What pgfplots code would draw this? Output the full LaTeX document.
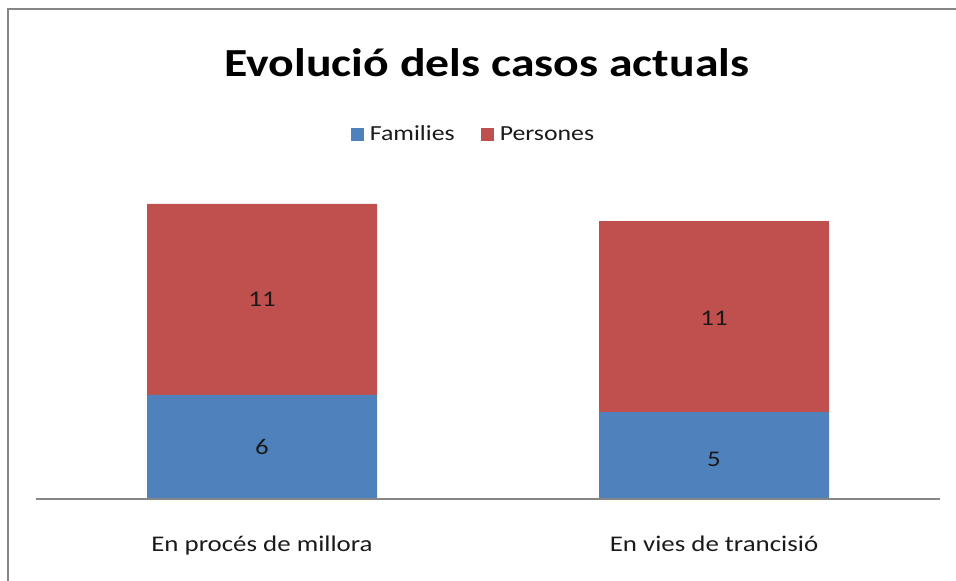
\documentclass[border=0pt]{standalone}
\usepackage{fontspec}
\setmainfont[FakeStretch=1.2]{Carlito}
\usepackage{pgfplots}
\pgfplotsset{compat=1.18}
\definecolor{famblue}{HTML}{4F81BD}
\definecolor{perred}{HTML}{C0504D}
\definecolor{framegray}{HTML}{868686}
\definecolor{txt}{HTML}{1A1A1A}
\begin{document}
\begin{tikzpicture}[x=1bp,y=1bp]
\useasboundingbox (0,0) rectangle (956,581);
\node[anchor=base,font=\fontsize{39.8bp}{44bp}\selectfont\bfseries] at (487,504) {Evolució dels casos actuals};
\begin{axis}[
  at={(36bp,82bp)}, anchor=south west,
  scale only axis, width=904bp, height=295.16bp,
  xmin=-0.5, xmax=1.5, ymin=0, ymax=17,
  ybar stacked, bar width=230bp,
  hide axis, clip=false,
  legend style={at={(0.484,1.236)}, anchor=center, draw=none, fill=none,
    legend columns=2, font=\fontsize{21.5bp}{25bp}\selectfont, text=txt,
    /tikz/every even column/.append style={column sep=24bp}},
  legend image code/.code={\fill[#1,draw=none] (0bp,-6.5bp) rectangle (13bp,6.5bp); \path (17bp,0bp);},
]
\draw[framegray, line width=1.2bp] (axis cs:-0.5,0) -- (axis cs:1.5,0);
\addplot[fill=famblue, draw=none] coordinates {(0,6) (1,5)};
\addlegendentry{Families}
\addplot[fill=perred, draw=none] coordinates {(0,11) (1,11)};
\addlegendentry{Persones}
\end{axis}
\begin{axis}[
  at={(36bp,82bp)}, anchor=south west,
  scale only axis, width=904bp, height=295.16bp,
  xmin=-0.5, xmax=1.5, ymin=0, ymax=17,
  hide y axis, ytick=\empty, axis x line*=bottom,
  axis line style={draw=none}, x axis line style={draw=none},
  every tick/.style={draw=none},
  xtick={0,1}, xticklabels={En procés de millora, En vies de trancisió},
  major tick length=0pt,
  xticklabel style={anchor=base, yshift=-53bp, text=txt, font=\fontsize{22.4bp}{26bp}\selectfont},
]
\addplot[draw=none, mark=none, nodes near coords, point meta=explicit symbolic,
  every node near coord/.append style={anchor=center, text=txt, font=\fontsize{22.4bp}{26bp}\selectfont}]
  coordinates {(0,3) [6] (1,2.3) [5] (0,11.5) [11] (1,10.4) [11]};
\end{axis}
\fill[white] (9.2,76) rectangle (35.3,88);
\draw[framegray,line width=2bp] (8,0) -- (8,572) -- (956,572);
\end{tikzpicture}
\end{document}
